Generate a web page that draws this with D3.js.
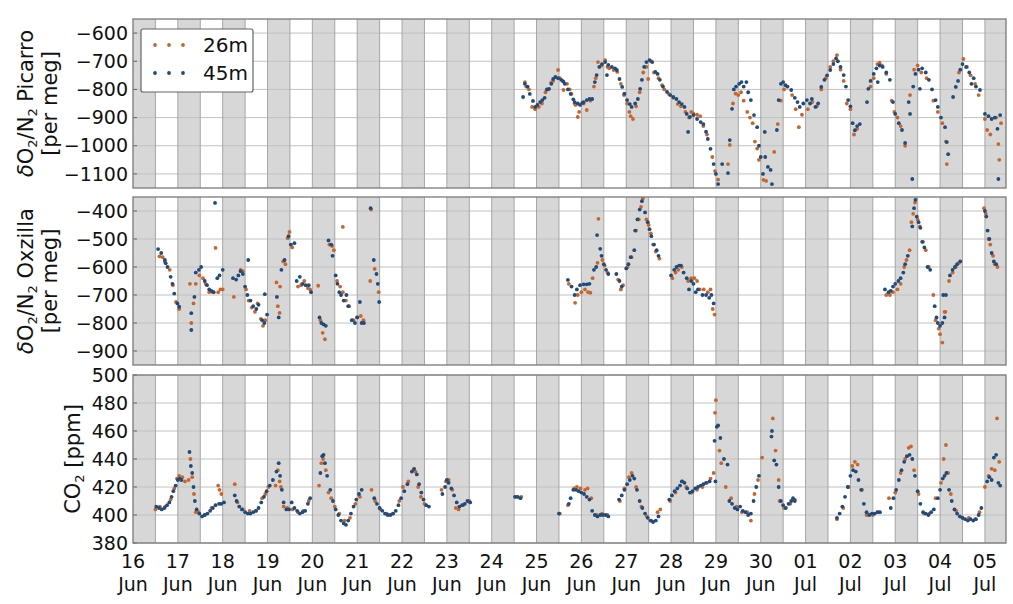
<!DOCTYPE html>
<html><head><meta charset="utf-8">
<script src="https://cdn.jsdelivr.net/npm/d3@7"></script>
<style>body{margin:0;background:#fff;} svg{font-family:"DejaVu Sans",sans-serif;}</style>
</head><body><svg id="c" width="1013" height="604"></svg>
<script>
// time axis: days since 16 Jun 00:00
const dayLabels = ["16","17","18","19","20","21","22","23","24","25","26","27","28","29","30","01","02","03","04","05"];
const monthLabels = ["Jun","Jun","Jun","Jun","Jun","Jun","Jun","Jun","Jun","Jun","Jun","Jun","Jun","Jun","Jun","Jul","Jul","Jul","Jul","Jul"];
const seriesNames = ["26m","45m"];
const picarroTicks = [-1100,-1000,-900,-800,-700,-600];
const oxzillaTicks = [-900,-800,-700,-600,-500,-400];
const co2Ticks = [380,400,420,440,460,480,500];

const picarro45 = [[8.70,-827],[8.74,-780],[8.80,-790],[8.85,-816],[8.92,-841],[8.97,-862],[9.02,-855],[9.08,-845],[9.13,-838],[9.18,-830],[9.23,-800],[9.28,-798],[9.33,-780],[9.37,-763],[9.42,-756],[9.48,-760],[9.55,-766],[9.60,-772],[9.63,-780],[9.70,-800],[9.76,-816],[9.82,-835],[9.85,-845],[9.92,-850],[9.97,-855],[10.02,-848],[10.05,-845],[10.12,-838],[10.18,-834],[10.24,-834],[10.30,-774],[10.34,-749],[10.40,-720],[10.46,-710],[10.53,-703],[10.57,-749],[10.60,-713],[10.68,-720],[10.75,-725],[10.79,-731],[10.85,-763],[10.91,-791],[10.96,-815],[11.02,-838],[11.08,-852],[11.12,-862],[11.20,-850],[11.26,-834],[11.31,-798],[11.35,-766],[11.40,-720],[11.45,-703],[11.52,-696],[11.58,-703],[11.65,-738],[11.70,-745],[11.75,-766],[11.82,-790],[11.91,-809],[11.98,-820],[12.05,-827],[12.12,-834],[12.18,-845],[12.24,-852],[12.30,-862],[12.35,-887],[12.38,-951],[12.42,-898],[12.50,-891],[12.58,-905],[12.66,-916],[12.72,-923],[12.78,-950],[12.82,-976],[12.88,-1011],[12.95,-1065],[13.00,-1100],[13.05,-1136],[13.14,-1065],[13.27,-1097],[13.31,-980],[13.36,-869],[13.40,-800],[13.45,-790],[13.52,-780],[13.57,-774],[13.62,-790],[13.68,-774],[13.72,-810],[13.78,-838],[13.85,-891],[13.92,-934],[13.96,-1000],[14.00,-1040],[14.05,-1100],[14.09,-951],[14.10,-1040],[14.16,-1075],[14.22,-1086],[14.25,-1136],[14.36,-944],[14.40,-838],[14.45,-780],[14.50,-774],[14.55,-785],[14.59,-790],[14.68,-802],[14.76,-830],[14.82,-845],[14.87,-862],[14.95,-850],[15.03,-838],[15.10,-850],[15.14,-834],[15.22,-862],[15.28,-850],[15.35,-791],[15.42,-766],[15.48,-750],[15.55,-731],[15.62,-710],[15.68,-690],[15.72,-700],[15.78,-720],[15.85,-749],[15.90,-790],[15.95,-838],[16.00,-860],[16.05,-920],[16.10,-945],[16.15,-930],[16.21,-923],[16.37,-845],[16.40,-798],[16.45,-770],[16.52,-745],[16.58,-725],[16.61,-774],[16.65,-715],[16.72,-720],[16.80,-740],[16.88,-766],[16.95,-845],[17.00,-887],[17.08,-920],[17.15,-944],[17.22,-990],[17.30,-845],[17.33,-887],[17.38,-1118],[17.40,-790],[17.45,-745],[17.52,-730],[17.55,-798],[17.60,-725],[17.68,-740],[17.75,-766],[17.82,-800],[17.90,-838],[17.95,-862],[18.02,-900],[18.11,-934],[18.15,-987],[18.18,-1030],[18.29,-827],[18.35,-791],[18.40,-770],[18.45,-730],[18.50,-710],[18.58,-720],[18.65,-740],[18.70,-780],[18.75,-760],[18.80,-790],[18.89,-802],[19.00,-887],[19.08,-895],[19.15,-905],[19.22,-900],[19.28,-940],[19.30,-1118],[19.34,-891]];
const picarro26 = [[8.74,-774],[8.77,-790],[8.83,-800],[8.90,-862],[8.97,-870],[9.05,-862],[9.12,-850],[9.20,-810],[9.26,-800],[9.33,-775],[9.37,-770],[9.48,-731],[9.52,-760],[9.58,-770],[9.60,-802],[9.68,-780],[9.74,-800],[9.78,-816],[9.85,-850],[9.87,-855],[9.92,-898],[9.95,-880],[10.05,-850],[10.12,-873],[10.20,-840],[10.28,-790],[10.32,-760],[10.37,-703],[10.45,-715],[10.53,-696],[10.58,-720],[10.62,-725],[10.72,-731],[10.80,-738],[10.88,-780],[10.95,-820],[11.02,-850],[11.07,-880],[11.10,-895],[11.15,-905],[11.22,-860],[11.30,-810],[11.38,-740],[11.45,-720],[11.49,-763],[11.55,-700],[11.62,-740],[11.72,-760],[11.80,-785],[11.85,-800],[11.95,-816],[12.05,-830],[12.15,-852],[12.22,-860],[12.32,-880],[12.40,-900],[12.45,-880],[12.50,-886],[12.58,-890],[12.65,-895],[12.72,-930],[12.80,-960],[12.92,-1040],[12.98,-1090],[13.05,-1120],[13.27,-1065],[13.31,-997],[13.38,-850],[13.44,-815],[13.50,-820],[13.56,-810],[13.62,-840],[13.70,-880],[13.76,-900],[13.82,-920],[13.87,-985],[13.92,-1010],[13.96,-1050],[14.06,-1121],[14.12,-1125],[14.30,-1022],[14.38,-923],[14.45,-840],[14.52,-800],[14.60,-790],[14.70,-820],[14.78,-870],[14.85,-934],[14.92,-890],[15.05,-870],[15.15,-845],[15.25,-860],[15.35,-800],[15.45,-760],[15.55,-720],[15.62,-700],[15.70,-678],[15.78,-730],[15.85,-770],[15.92,-850],[16.00,-870],[16.08,-960],[16.15,-940],[16.45,-790],[16.52,-760],[16.60,-710],[16.65,-705],[16.70,-715],[16.80,-745],[16.92,-840],[16.98,-880],[17.05,-900],[17.12,-930],[17.22,-1000],[17.33,-820],[17.42,-730],[17.50,-715],[17.58,-740],[17.70,-760],[17.85,-840],[17.95,-880],[18.05,-920],[18.13,-985],[18.15,-1065],[18.42,-740],[18.52,-692],[18.60,-720],[18.68,-750],[18.78,-780],[18.86,-820],[19.00,-905],[19.05,-944],[19.12,-960],[19.25,-900],[19.30,-994],[19.32,-1050],[19.36,-920]];

const oxzilla45 = [[0.56,-536],[0.63,-550],[0.71,-575],[0.73,-587],[0.77,-600],[0.84,-635],[0.88,-660],[0.92,-695],[0.99,-730],[1.03,-742],[1.30,-765],[1.30,-825],[1.37,-707],[1.40,-620],[1.47,-610],[1.52,-600],[1.60,-650],[1.65,-665],[1.70,-680],[1.75,-685],[1.80,-690],[1.83,-371],[1.88,-640],[1.93,-630],[2.00,-610],[2.23,-640],[2.30,-645],[2.35,-630],[2.40,-615],[2.45,-625],[2.50,-670],[2.55,-700],[2.57,-575],[2.62,-720],[2.68,-740],[2.75,-750],[2.80,-735],[2.88,-790],[2.93,-800],[2.94,-697],[2.99,-770],[3.21,-707],[3.25,-780],[3.31,-610],[3.38,-575],[3.47,-490],[3.52,-520],[3.60,-515],[3.65,-650],[3.72,-635],[3.78,-660],[3.85,-665],[3.92,-665],[3.97,-690],[4.16,-780],[4.20,-800],[4.25,-805],[4.30,-810],[4.36,-505],[4.42,-520],[4.45,-560],[4.52,-630],[4.56,-660],[4.60,-690],[4.64,-700],[4.70,-720],[4.76,-700],[4.80,-740],[4.88,-790],[4.95,-800],[5.00,-780],[5.06,-725],[5.10,-800],[5.15,-800],[5.30,-390],[5.37,-575],[5.43,-625],[5.46,-660],[5.49,-725],
 [9.70,-646],[9.78,-670],[9.85,-700],[9.90,-680],[9.97,-665],[10.05,-662],[10.12,-662],[10.18,-660],[10.28,-610],[10.33,-600],[10.35,-486],[10.42,-535],[10.45,-560],[10.50,-590],[10.55,-610],[10.60,-625],[10.78,-625],[10.85,-650],[10.90,-670],[11.00,-605],[11.05,-590],[11.10,-565],[11.18,-540],[11.20,-470],[11.25,-430],[11.30,-395],[11.35,-365],[11.42,-405],[11.48,-440],[11.52,-465],[11.56,-490],[11.62,-520],[11.68,-540],[11.72,-560],[12.00,-630],[12.07,-610],[12.12,-600],[12.18,-595],[12.22,-595],[12.28,-620],[12.35,-640],[12.40,-680],[12.45,-650],[12.50,-660],[12.55,-690],[12.60,-680],[12.70,-700],[12.78,-700],[12.85,-710],[12.90,-700],[12.95,-730],
 [16.77,-680],[16.85,-690],[16.90,-685],[16.95,-670],[17.00,-660],[17.07,-650],[17.12,-640],[17.18,-620],[17.22,-590],[17.28,-560],[17.38,-455],[17.42,-390],[17.45,-360],[17.48,-420],[17.52,-440],[17.56,-460],[17.60,-510],[17.65,-530],[17.72,-600],[17.78,-610],[17.88,-740],[17.92,-780],[17.95,-800],[18.00,-810],[18.05,-800],[18.07,-700],[18.10,-780],[18.13,-700],[18.22,-630],[18.28,-610],[18.33,-600],[18.38,-590],[18.45,-580],[19.00,-400],[19.03,-420],[19.06,-470],[19.10,-500],[19.15,-550],[19.20,-580],[19.25,-590]];
const oxzilla26 = [[0.59,-562],[0.66,-565],[0.71,-580],[0.82,-610],[0.89,-665],[0.96,-725],[1.03,-750],[1.27,-660],[1.30,-800],[1.35,-730],[1.40,-660],[1.48,-630],[1.56,-640],[1.62,-660],[1.70,-690],[1.78,-690],[1.84,-532],[1.90,-690],[1.95,-680],[2.00,-680],[2.25,-707],[2.40,-610],[2.45,-615],[2.52,-680],[2.58,-720],[2.65,-745],[2.72,-760],[2.78,-730],[2.85,-785],[2.90,-810],[2.95,-790],[3.20,-655],[3.23,-740],[3.27,-764],[3.28,-670],[3.35,-580],[3.40,-590],[3.45,-497],[3.49,-475],[3.55,-530],[3.68,-670],[3.75,-665],[3.82,-650],[3.90,-675],[3.95,-680],[4.13,-667],[4.18,-790],[4.23,-835],[4.28,-858],[4.38,-520],[4.44,-525],[4.48,-540],[4.55,-650],[4.62,-670],[4.68,-457],[4.68,-690],[4.75,-720],[4.82,-740],[4.92,-790],[5.00,-780],[5.08,-775],[5.14,-790],[5.29,-650],[5.31,-395],[5.39,-607],[5.48,-690],
 [9.72,-660],[9.86,-728],[9.92,-700],[10.00,-690],[10.08,-680],[10.15,-690],[10.20,-692],[10.25,-640],[10.36,-585],[10.38,-428],[10.47,-575],[10.52,-595],[10.58,-620],[10.82,-645],[10.88,-680],[10.93,-665],[11.03,-600],[11.12,-565],[11.22,-470],[11.28,-430],[11.33,-385],[11.37,-355],[11.45,-430],[11.50,-450],[11.55,-480],[11.60,-520],[11.66,-545],[11.74,-570],[12.03,-640],[12.10,-620],[12.16,-610],[12.24,-600],[12.38,-650],[12.45,-640],[12.52,-640],[12.58,-650],[12.64,-680],[12.73,-680],[12.82,-690],[12.88,-680],[12.93,-750],[12.97,-770],
 [16.80,-700],[16.88,-700],[16.95,-690],[17.05,-680],[17.12,-660],[17.20,-600],[17.25,-575],[17.32,-540],[17.36,-440],[17.40,-410],[17.44,-370],[17.50,-430],[17.55,-455],[17.62,-510],[17.68,-540],[17.75,-600],[17.85,-700],[17.90,-790],[17.97,-820],[18.00,-840],[18.05,-870],[18.10,-760],[18.12,-760],[18.20,-650],[18.28,-620],[18.35,-600],[18.42,-585],[18.98,-390],[19.02,-410],[19.08,-500],[19.12,-520],[19.18,-560],[19.22,-590],[19.28,-600]];

const co2_45 = [[0.52,406],[0.58,405],[0.64,404],[0.70,405],[0.76,407],[0.81,409],[0.86,413],[0.90,417],[0.95,421],[1.00,425],[1.04,426],[1.08,425],[1.26,445],[1.29,435],[1.32,430],[1.35,420],[1.38,410],[1.42,404],[1.48,401],[1.54,399],[1.60,400],[1.66,401],[1.72,403],[1.78,405],[1.84,407],[1.92,408],[1.97,408],[2.03,409],[2.27,414],[2.31,410],[2.37,406],[2.43,404],[2.50,402],[2.56,401],[2.62,401],[2.68,402],[2.74,403],[2.80,405],[2.86,409],[2.92,413],[2.98,417],[3.05,421],[3.12,425],[3.20,431],[3.25,437],[3.28,428],[3.32,418],[3.36,409],[3.42,404],[3.48,404],[3.54,409],[3.60,405],[3.66,403],[3.72,401],[3.78,402],[3.84,403],[3.90,408],[3.95,412],[4.18,430],[4.22,442],[4.25,443],[4.28,437],[4.33,428],[4.40,418],[4.46,410],[4.52,404],[4.58,400],[4.64,396],[4.70,394],[4.75,393],[4.80,396],[4.86,401],[4.92,406],[4.98,411],[5.04,415],[5.10,418],[5.38,412],[5.44,408],[5.50,405],[5.56,403],[5.62,401],[5.68,400],[5.74,400],[5.80,401],[5.86,403],[5.92,407],[5.98,412],[6.05,417],[6.12,422],[6.22,431],[6.27,433],[6.33,429],[6.38,422],[6.43,416],[6.48,411],[6.54,407],[6.60,406],[6.90,415],[6.96,420],[7.00,425],[7.04,423],[7.10,419],[7.16,414],[7.22,409],[7.28,406],[7.34,407],[7.40,408],[7.46,410],[7.52,409],[8.52,413],[8.58,413],[8.64,412],[9.50,401],[9.72,408],[9.76,412],[9.82,418],[9.88,418],[9.94,417],[10.00,416],[10.06,415],[10.12,413],[10.18,411],[10.24,403],[10.30,400],[10.36,399],[10.42,400],[10.48,400],[10.54,400],[10.60,399],[10.84,411],[10.90,414],[10.96,418],[11.02,422],[11.08,425],[11.14,428],[11.18,426],[11.24,418],[11.30,410],[11.36,405],[11.42,401],[11.48,398],[11.54,396],[11.60,395],[11.66,396],[11.72,399],[11.96,411],[12.02,414],[12.08,417],[12.14,419],[12.20,421],[12.24,424],[12.30,423],[12.36,419],[12.42,416],[12.48,417],[12.54,419],[12.60,420],[12.66,421],[12.72,422],[12.78,423],[12.86,424],[12.97,453],[12.99,424],[13.02,463],[13.05,464],[13.10,455],[13.18,440],[13.26,436],[13.30,410],[13.36,408],[13.42,405],[13.48,404],[13.54,406],[13.60,403],[13.66,402],[13.72,400],[13.78,401],[13.84,410],[13.90,420],[13.96,428],[14.24,456],[14.25,460],[14.30,439],[14.35,436],[14.40,420],[14.45,410],[14.50,407],[14.56,405],[14.62,408],[14.68,410],[14.72,412],[14.76,410],[15.70,398],[15.76,401],[15.82,406],[15.88,413],[15.94,420],[16.00,428],[16.06,432],[16.12,431],[16.18,425],[16.24,418],[16.30,408],[16.36,402],[16.42,400],[16.48,401],[16.54,401],[16.60,402],[16.66,402],[16.90,405],[16.96,412],[17.02,418],[17.08,425],[17.14,432],[17.20,438],[17.26,442],[17.32,443],[17.38,440],[17.44,428],[17.50,417],[17.56,408],[17.62,402],[17.68,401],[17.74,400],[17.80,402],[17.86,404],[17.95,412],[18.00,418],[18.06,426],[18.10,428],[18.14,430],[18.20,418],[18.26,410],[18.32,404],[18.38,401],[18.44,399],[18.50,398],[18.56,397],[18.62,396],[18.68,397],[18.74,396],[18.80,397],[18.86,400],[18.92,405],[19.05,424],[19.10,427],[19.15,425],[19.20,441],[19.25,443],[19.30,423],[19.34,421]];
const co2_26 = [[0.50,404],[0.60,406],[0.72,406],[0.84,411],[0.92,419],[0.98,426],[1.03,428],[1.10,427],[1.16,424],[1.24,425],[1.28,440],[1.32,427],[1.36,415],[1.40,402],[1.46,402],[1.60,400],[1.75,405],[1.90,421],[1.93,418],[1.97,415],[2.27,422],[2.33,409],[2.45,404],[2.60,403],[2.75,403],[2.88,412],[2.95,415],[3.02,420],[3.18,421],[3.23,432],[3.27,424],[3.30,420],[3.36,406],[3.44,405],[3.56,404],[3.68,402],[3.80,403],[3.92,410],[4.15,421],[4.20,437],[4.24,440],[4.30,432],[4.36,416],[4.42,412],[4.50,406],[4.60,401],[4.72,396],[4.84,398],[4.96,408],[5.06,413],[5.32,418],[5.40,410],[5.52,404],[5.66,401],[5.80,401],[5.94,410],[6.02,420],[6.14,424],[6.25,432],[6.30,431],[6.36,420],[6.42,413],[6.50,408],[6.88,418],[6.98,424],[7.04,425],[7.12,418],[7.20,405],[7.26,404],[7.36,407],[7.50,410],[8.55,413],[8.66,413],[9.52,401],[9.70,407],[9.84,419],[9.90,420],[9.98,419],[10.08,418],[10.14,419],[10.22,412],[10.34,400],[10.46,401],[10.58,400],[10.86,410],[10.96,419],[11.06,427],[11.12,430],[11.22,420],[11.34,406],[11.46,399],[11.56,396],[11.70,402],[11.76,404],[11.98,410],[12.10,416],[12.26,424],[12.34,420],[12.46,416],[12.58,418],[12.70,420],[12.80,423],[12.88,426],[12.95,430],[12.98,473],[13.00,482],[13.08,446],[13.12,437],[13.22,420],[13.34,412],[13.46,406],[13.58,402],[13.70,402],[13.78,396],[13.86,415],[13.94,425],[14.03,441],[14.27,469],[14.33,446],[14.40,425],[14.42,410],[14.52,405],[14.66,408],[14.76,411],[15.70,397],[15.84,405],[15.96,420],[16.04,435],[16.10,438],[16.16,436],[16.26,418],[16.36,400],[16.50,400],[16.62,402],[16.86,412],[17.00,416],[17.12,430],[17.22,440],[17.30,448],[17.35,449],[17.42,432],[17.52,415],[17.64,401],[17.76,401],[17.90,412],[18.02,423],[18.08,440],[18.13,450],[18.18,430],[18.24,415],[18.36,403],[18.50,398],[18.64,398],[18.78,397],[18.88,402],[19.00,420],[19.08,428],[19.15,433],[19.22,432],[19.27,469],[19.32,438]];

const C26 = "#c9652c", C45 = "#1e4b7b";
const svg = d3.select("#c");
const xMax = 19.47;
const x = d3.scaleLinear().domain([0, xMax]).range([133, 1006]);

const panels = [
  {top:19, bottom:188, domain:[-1150,-550], ticks:picarroTicks, s26:picarro26, s45:picarro45, kind:"o2", name:"Picarro"},
  {top:197, bottom:365, domain:[-950,-350], ticks:oxzillaTicks, s26:oxzilla26, s45:oxzilla45, kind:"o2", name:"Oxzilla"},
  {top:375, bottom:543, domain:[380,500], ticks:co2Ticks, s26:co2_26, s45:co2_45, kind:"co2"}
];

panels.forEach((p, i) => {
  const y = d3.scaleLinear().domain(p.domain).range([p.bottom, p.top]);
  const g = svg.append("g");
  const id = "clip" + i;
  svg.append("clipPath").attr("id", id).append("rect")
    .attr("x", x(0)).attr("y", p.top).attr("width", x(xMax) - x(0)).attr("height", p.bottom - p.top);
  const days = d3.range(0, 20);
  g.selectAll("rect.band").data(days).enter().append("rect")
    .attr("x", d => x(d)).attr("y", p.top)
    .attr("width", d => x(Math.min(d + 0.5, xMax)) - x(d))
    .attr("height", p.bottom - p.top).attr("fill", "#d7d7d7");
  g.selectAll("line.hg").data(p.ticks).enter().append("line")
    .attr("x1", x(0)).attr("x2", x(xMax)).attr("y1", d => y(d)).attr("y2", d => y(d))
    .attr("stroke", "#c2c2c2").attr("stroke-width", 1);
  const edges = d3.range(0, 39).map(k => k * 0.5).filter(v => v > 0 && v < xMax);
  g.selectAll("line.vg").data(edges).enter().append("line")
    .attr("x1", d => x(d)).attr("x2", d => x(d)).attr("y1", p.top).attr("y2", p.bottom)
    .attr("stroke", "#a6a6a6").attr("stroke-width", 1);
  const ax = d3.axisLeft(y).tickValues(p.ticks).tickSize(0).tickPadding(5).tickFormat(d3.format("d"));
  const ag = g.append("g").attr("transform", `translate(${x(0)},0)`).call(ax)
    .attr("font-size", 19).attr("font-family", "DejaVu Sans");
  ag.select(".domain").remove();
  ag.selectAll("text").style("font-size", "19px").attr("fill", "#111");
  g.selectAll("line.tk").data(p.ticks).enter().append("line")
    .attr("x1", x(0)).attr("x2", x(0) + 4).attr("y1", d => y(d)).attr("y2", d => y(d))
    .attr("stroke", "#666");
  const pg = g.append("g").attr("clip-path", `url(#${id})`);
  pg.selectAll("circle.o").data(p.s26).enter().append("circle")
    .attr("cx", d => x(d[0])).attr("cy", d => y(d[1])).attr("r", 1.9).attr("fill", C26);
  pg.selectAll("circle.b").data(p.s45).enter().append("circle")
    .attr("cx", d => x(d[0])).attr("cy", d => y(d[1])).attr("r", 1.9).attr("fill", C45);
  g.append("rect").attr("x", x(0)).attr("y", p.top).attr("width", x(xMax) - x(0))
    .attr("height", p.bottom - p.top).attr("fill", "none").attr("stroke", "#7a7a7a").attr("stroke-width", 1.3);

  const cy = (p.top + p.bottom) / 2;
  const fs = 21, sfs = 13;
  if (p.kind === "o2") {
    const t1 = svg.append("text").attr("transform", `translate(33,${cy}) rotate(-90)`)
      .attr("text-anchor", "middle").style("font-size", fs + "px").attr("fill", "#111");
    t1.append("tspan").attr("font-style", "italic").text("δ");
    t1.append("tspan").text("O");
    t1.append("tspan").style("font-size", sfs + "px").attr("dy", 4).text("2");
    t1.append("tspan").attr("dy", -4).text("/N");
    t1.append("tspan").style("font-size", sfs + "px").attr("dy", 4).text("2");
    t1.append("tspan").attr("dy", -4).text(" " + p.name);
    svg.append("text").attr("transform", `translate(57,${cy}) rotate(-90)`)
      .attr("text-anchor", "middle").style("font-size", fs + "px").attr("fill", "#111").text("[per meg]");
  } else {
    const t = svg.append("text").attr("transform", `translate(80,${cy}) rotate(-90)`)
      .attr("text-anchor", "middle").style("font-size", fs + "px").attr("fill", "#111");
    t.append("tspan").text("CO");
    t.append("tspan").style("font-size", sfs + "px").attr("dy", 4).text("2");
    t.append("tspan").attr("dy", -4).text(" [ppm]");
  }
});

const xa = svg.append("g");
xa.selectAll("text.d").data(d3.range(0, 20)).enter().append("text")
  .attr("x", d => x(d)).attr("y", 568).attr("text-anchor", "middle").style("font-size", "19px").attr("fill", "#111")
  .text(d => dayLabels[d]);
xa.selectAll("text.m").data(d3.range(0, 20)).enter().append("text")
  .attr("x", d => x(d)).attr("y", 591).attr("text-anchor", "middle").style("font-size", "19px").attr("fill", "#111")
  .text(d => monthLabels[d]);

const lg = svg.append("g");
lg.append("rect").attr("x", 141).attr("y", 29).attr("width", 112).attr("height", 63).attr("rx", 2)
  .attr("fill", "#fff").attr("stroke", "#666").attr("stroke-width", 1.2);
[[C26, 45, seriesNames[0]], [C45, 73, seriesNames[1]]].forEach(([c, yy, label]) => {
  [155, 169, 183].forEach(xx => lg.append("circle").attr("cx", xx).attr("cy", yy).attr("r", 1.9).attr("fill", c));
  lg.append("text").attr("x", 203).attr("y", yy + 7).style("font-size", "20px").attr("fill", "#111").text(label);
});
</script></body></html>
